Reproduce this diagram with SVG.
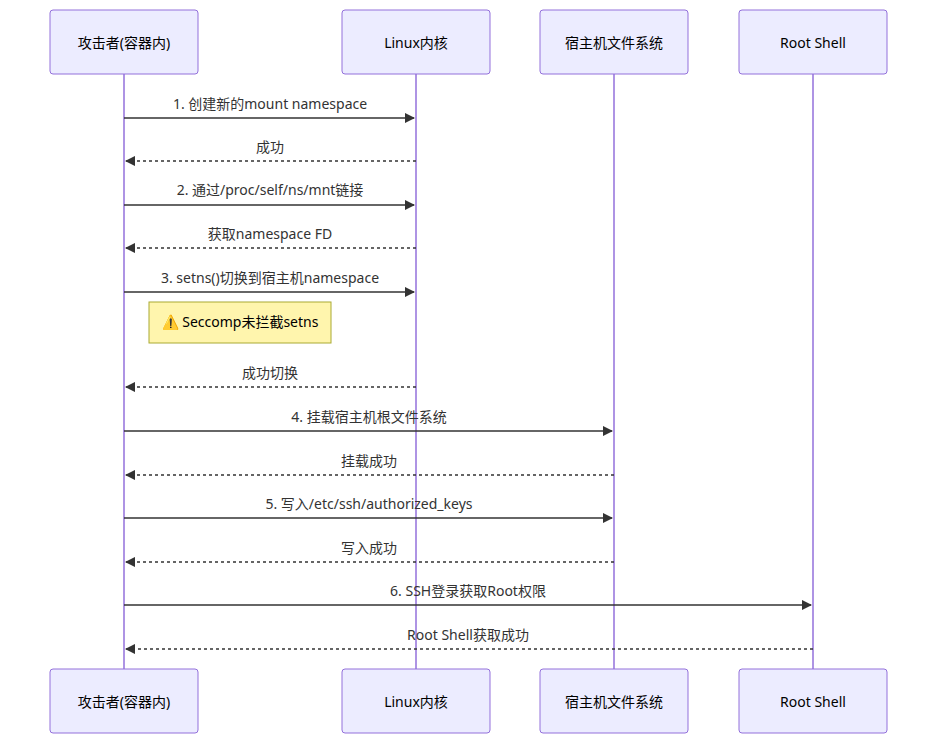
<svg xmlns="http://www.w3.org/2000/svg" width="945" height="751" viewBox="0 0 945 751">
<style>
.box{fill:#ECECFF;stroke:#9370DB;stroke-width:1}
.life{stroke:#9370DB;stroke-width:1.5}
text{font-family:"Noto Sans","Noto Sans CJK SC",sans-serif;font-size:14px;fill:#333;text-anchor:middle}
.pt{font-size:14px;dominant-baseline:central;fill:#000}
.m{stroke:#333;stroke-width:1.3;fill:none}
.d{stroke-dasharray:3,3}
</style>
<defs>
<marker id="ah" viewBox="0 0 10 10" refX="9" refY="5" markerWidth="8" markerHeight="8" orient="auto"><path d="M0,0 L10,5 L0,10 z" fill="#333"/></marker>
</defs>
<g id="lifelines">
<line class="life" x1="124" y1="74" x2="124" y2="669"/>
<line class="life" x1="416" y1="74" x2="416" y2="669"/>
<line class="life" x1="614" y1="74" x2="614" y2="669"/>
<line class="life" x1="813" y1="74" x2="813" y2="669"/>
</g>
<g id="p1"><rect class="box" x="50" y="10" width="148" height="64" rx="3"/><text class="pt" x="124" y="42">攻击者(容器内)</text></g>
<g id="p2"><rect class="box" x="342" y="10" width="148" height="64" rx="3"/><text class="pt" x="416" y="42">Linux内核</text></g>
<g id="p3"><rect class="box" x="540" y="10" width="148" height="64" rx="3"/><text class="pt" x="614" y="42">宿主机文件系统</text></g>
<g id="p4"><rect class="box" x="739" y="10" width="148" height="64" rx="3"/><text class="pt" x="813" y="42">Root Shell</text></g>
<g id="p1b"><rect class="box" x="50" y="669" width="148" height="64" rx="3"/><text class="pt" x="124" y="701">攻击者(容器内)</text></g>
<g id="p2b"><rect class="box" x="342" y="669" width="148" height="64" rx="3"/><text class="pt" x="416" y="701">Linux内核</text></g>
<g id="p3b"><rect class="box" x="540" y="669" width="148" height="64" rx="3"/><text class="pt" x="614" y="701">宿主机文件系统</text></g>
<g id="p4b"><rect class="box" x="739" y="669" width="148" height="64" rx="3"/><text class="pt" x="813" y="701">Root Shell</text></g>
<g id="note"><rect x="149" y="302" width="182" height="41" fill="#fff5ad" stroke="#aaaa33"/><text x="240" y="327" style="fill:#000">⚠️ Seccomp未拦截setns</text></g>
<g id="connectors">
<line class="m" x1="124" y1="118" x2="414" y2="118" marker-end="url(#ah)"/><text x="270" y="109">1. 创建新的mount namespace</text>
<line class="m d" x1="416" y1="161" x2="126" y2="161" marker-end="url(#ah)"/><text x="270" y="152">成功</text>
<line class="m" x1="124" y1="205" x2="414" y2="205" marker-end="url(#ah)"/><text x="270" y="195">2. 通过/proc/self/ns/mnt链接</text>
<line class="m d" x1="416" y1="248" x2="126" y2="248" marker-end="url(#ah)"/><text x="270" y="239">获取namespace FD</text>
<line class="m" x1="124" y1="292" x2="414" y2="292" marker-end="url(#ah)"/><text x="270" y="283">3. setns()切换到宿主机namespace</text>
<line class="m d" x1="416" y1="387" x2="126" y2="387" marker-end="url(#ah)"/><text x="270" y="378">成功切换</text>
<line class="m" x1="124" y1="431" x2="612" y2="431" marker-end="url(#ah)"/><text x="369" y="422">4. 挂载宿主机根文件系统</text>
<line class="m d" x1="614" y1="475" x2="126" y2="475" marker-end="url(#ah)"/><text x="369" y="466">挂载成功</text>
<line class="m" x1="124" y1="518" x2="612" y2="518" marker-end="url(#ah)"/><text x="369" y="509">5. 写入/etc/ssh/authorized_keys</text>
<line class="m d" x1="614" y1="562" x2="126" y2="562" marker-end="url(#ah)"/><text x="369" y="553">写入成功</text>
<line class="m" x1="124" y1="605" x2="811" y2="605" marker-end="url(#ah)"/><text x="468" y="596">6. SSH登录获取Root权限</text>
<line class="m d" x1="813" y1="649" x2="126" y2="649" marker-end="url(#ah)"/><text x="468" y="640">Root Shell获取成功</text>
</g>
</svg>
